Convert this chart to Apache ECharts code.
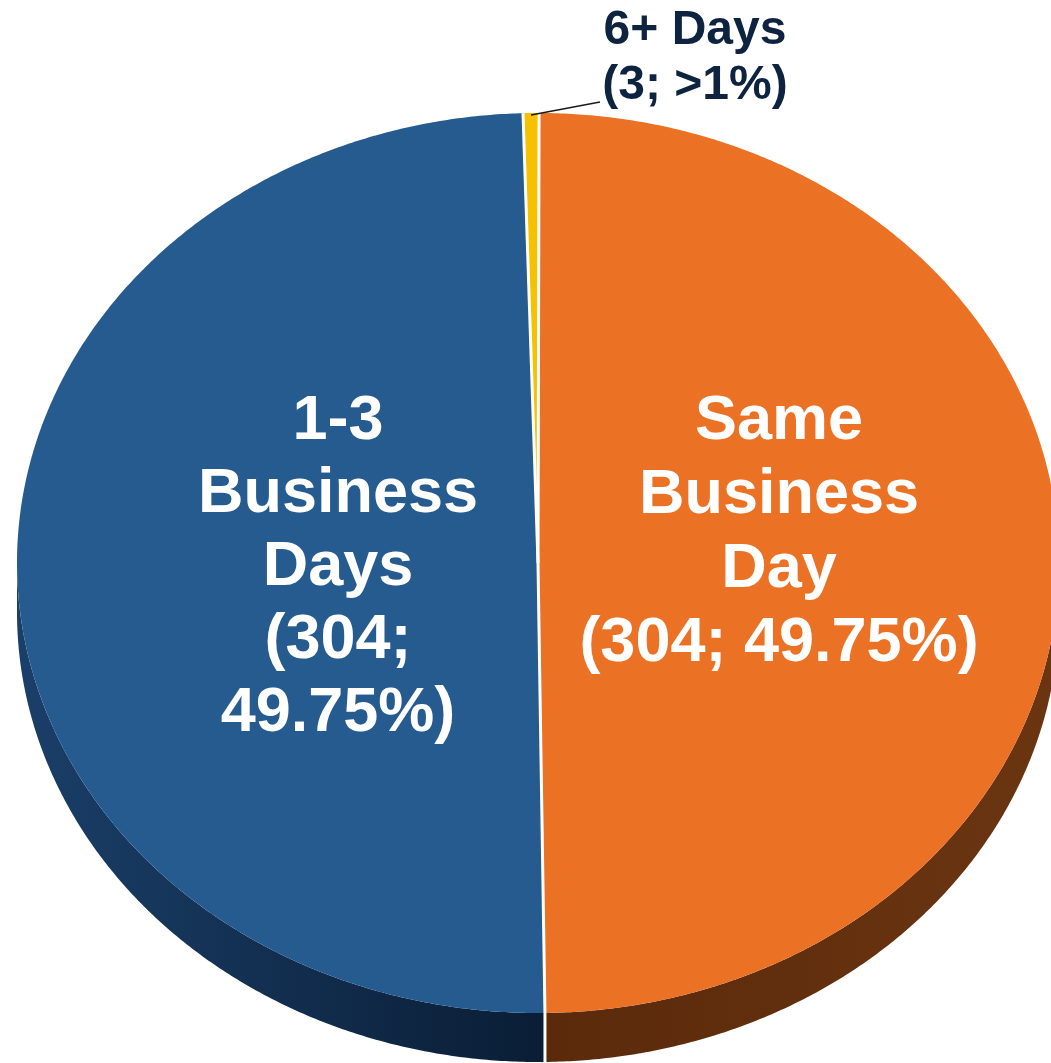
<!DOCTYPE html>
<html><head><meta charset="utf-8">
<script src="https://cdn.jsdelivr.net/npm/echarts@6/dist/echarts.min.js"></script>
<style>html,body{margin:0;padding:0;background:#fff}#c{width:1051px;height:1063px}</style>
</head><body><div id="c"></div>
<script>
// ---- data ----
const categories = ['6+ Days', 'Same Business Day', '1-3 Business Days'];
const labelNames = ['6+ Days', 'Same\nBusiness\nDay', '1-3\nBusiness\nDays'];
const counts = [3, 304, 304];
const pctLabels = ['>1%', '49.75%', '49.75%'];

// ---- style / layout ----
const topColors = ['#f6c100', '#eb7125', '#265b8f'];
const sideStops = [
  [['#9c7a00', 0], ['#7d6200', 1]],
  [['#5a2a0b', 0], ['#6b3511', 1]],
  [['#1a3f69', 0], ['#0a1d35', 1]]
];
const G = { cx: 538, cy: 563, rx: 521, ryT: 450, ryB: 450, depth: 49, startDeg: -1.65 };
const labelLayout = [
  { x: 695, y: 58, wrap: false, size: 48, lh: 55, color: '#0e2340', outside: true, lineTo: [600, 102] },
  { x: 779, y: 533, wrap: false, size: 63, lh: 74, color: '#ffffff' },
  { x: 338, y: 568, wrap: true, size: 63, lh: 73, color: '#ffffff' }
];

const total = counts.reduce((s, v) => s + v, 0);
const angles = [];
let acc = G.startDeg;
counts.forEach(v => { const span = v / total * 360; angles.push([acc, acc + span]); acc += span; });

function pt(deg, dy) {
  const t = deg * Math.PI / 180;
  const c = Math.cos(t);
  const ry = c >= 0 ? G.ryT : G.ryB;
  return [G.cx + G.rx * Math.sin(t), G.cy - ry * c + (dy || 0)];
}
function arc(a, b, dy) {
  const n = Math.max(2, Math.ceil(Math.abs(b - a) / 0.4));
  const out = [];
  for (let k = 0; k <= n; k++) out.push(pt(a + (b - a) * k / n, dy));
  return out;
}

function renderItem(params, api) {
  const i = params.dataIndex;
  const [a, b] = angles[i];
  const children = [];
  const lo = Math.max(a, 90), hi = Math.min(b, 270);
  if (hi > lo) {
    const poly = arc(lo, hi, 0).concat(arc(hi, lo, G.depth));
    children.push({
      type: 'polygon', z2: 1,
      shape: { points: poly },
      style: { fill: new echarts.graphic.LinearGradient(0, 0, 1, 0,
        sideStops[i].map(s => ({ offset: s[1], color: s[0] }))) }
    });
  }
  children.push({
    type: 'polygon', z2: 2,
    shape: { points: [[G.cx, G.cy]].concat(arc(a, b, 0)) },
    style: { fill: topColors[i] }
  });
  const p0 = pt(a, 0);
  children.push({ type: 'line', z2: 10, shape: { x1: G.cx, y1: G.cy, x2: p0[0], y2: p0[1] },
    style: { stroke: '#ffffff', lineWidth: 3 } });
  const na = ((a % 360) + 360) % 360;
  if (na > 90 && na < 270) {
    const p1 = pt(a, G.depth);
    children.push({ type: 'line', z2: 10, shape: { x1: p0[0], y1: p0[1], x2: p1[0], y2: p1[1] },
      style: { stroke: '#ffffff', lineWidth: 3 } });
  }
  const L = labelLayout[i];
  const valLine = '(' + api.value(0) + ';' + (L.wrap ? '\n' : ' ') + pctLabels[i] + ')';
  children.push({
    type: 'text', z2: 100,
    style: {
      text: labelNames[i] + '\n' + valLine,
      x: L.x, y: L.y,
      fill: L.color,
      font: 'bold ' + L.size + 'px "Liberation Sans", Arial, sans-serif',
      lineHeight: L.lh,
      align: 'center', verticalAlign: 'middle'
    }
  });
  if (L.outside) {
    const mid = pt((a + b) / 2, 0);
    children.push({ type: 'line', z2: 50,
      shape: { x1: mid[0], y1: mid[1] + 2, x2: L.lineTo[0], y2: L.lineTo[1] },
      style: { stroke: '#1a1a1a', lineWidth: 1.5 } });
  }
  return { type: 'group', children };
}

const chart = echarts.init(document.getElementById('c'), null, { renderer: 'canvas' });
chart.setOption({
  animation: false,
  backgroundColor: '#ffffff',
  series: [{
    type: 'custom',
    coordinateSystem: 'none',
    renderItem,
    data: counts.map((v, i) => ({ name: categories[i], value: [v] }))
  }]
});
</script></body></html>
